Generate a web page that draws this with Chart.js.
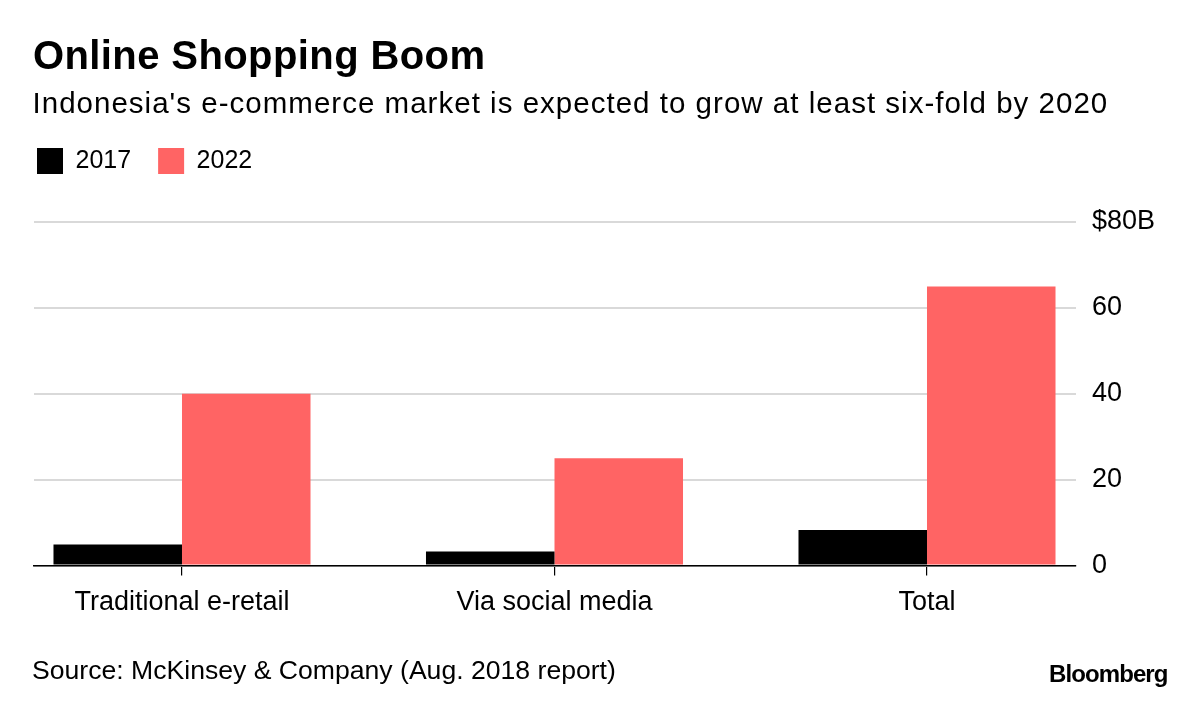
<!DOCTYPE html>
<html>
<head>
<meta charset="utf-8">
<script src="https://cdn.jsdelivr.net/npm/chart.js@4.4.0/dist/chart.umd.min.js"></script>
<style>
html, body { margin: 0; padding: 0; background: #ffffff; }
#wrap { position: relative; width: 1200px; height: 701px; overflow: hidden;
        font-family: "Liberation Sans", Arial, sans-serif; color: #000; }
#c { position: absolute; left: 0; top: 0; }
.t { position: absolute; white-space: nowrap; line-height: 1; }
#title { left: 33px; top: 35px; font-size: 40px; font-weight: bold; letter-spacing: 0.4px; }
#sub { left: 32.5px; top: 88px; font-size: 29.5px; letter-spacing: 1.02px; }
#src { left: 32px; top: 657px; font-size: 26.6px; }
#logo { left: 1049px; top: 662px; font-size: 24px; font-weight: bold; letter-spacing: -0.9px; }
</style>
</head>
<body>
<div id="wrap">
  <canvas id="c" width="1200" height="701"></canvas>
  <div class="t" id="title">Online Shopping Boom</div>
  <div class="t" id="sub">Indonesia's e-commerce market is expected to grow at least six-fold by 2020</div>
  <div class="t" id="src">Source: McKinsey &amp; Company (Aug. 2018 report)</div>
  <div class="t" id="logo">Bloomberg</div>
</div>
<script>
const categories = ['Traditional e-retail', 'Via social media', 'Total'];
const seriesNames = ['2017', '2022'];
const values2017 = [4.9, 3.3, 8.3];
const values2022 = [40, 25, 65];
const yTicks = [0, 20, 40, 60, 80];
const yTickLabels = ['0', '20', '40', '60', '$80B'];
const seriesColors = ['#000000', '#ff6464'];

Chart.defaults.font.family = "'Liberation Sans', Arial, sans-serif";
Chart.defaults.color = '#000';

const toPoints = arr => arr.map((v, i) => ({ x: i, y: v }));

const legendSpace = {
  id: 'legendSpace',
  beforeLayout(chart) {
    const lg = chart.legend;
    if (lg && !lg._patched) {
      const orig = lg.fit;
      lg.fit = function () { orig.call(this); this.height = 101; };
      lg._patched = true;
    }
  }
};

new Chart(document.getElementById('c'), {
  type: 'bar',
  data: {
    datasets: [
      { label: seriesNames[0], data: toPoints(values2017), backgroundColor: seriesColors[0],
        xAxisID: 'x', yAxisID: 'y', categoryPercentage: 0.69, barPercentage: 1 },
      { label: seriesNames[1], data: toPoints(values2022), backgroundColor: seriesColors[1],
        xAxisID: 'x', yAxisID: 'y', categoryPercentage: 0.69, barPercentage: 1 }
    ]
  },
  options: {
    responsive: false,
    animation: false,
    devicePixelRatio: 1,
    layout: { padding: { left: 10, right: 0, top: 121, bottom: 71 } },
    plugins: {
      legend: {
        display: true, position: 'top', align: 'start',
        labels: { boxWidth: 26, boxHeight: 26, padding: 27, color: '#000', font: { size: 25 } }
      },
      tooltip: { enabled: false },
      title: { display: false }
    },
    scales: {
      x: {
        type: 'linear', position: 'bottom', min: -0.3973, max: 2.4, bounds: 'data', offset: false,
        afterBuildTicks: s => { s.ticks = categories.map((_, i) => ({ value: i })); },
        ticks: {
          callback: v => (categories[v] !== undefined ? categories[v] : ''),
          autoSkip: false, maxRotation: 0, minRotation: 0, padding: 11,
          color: '#000', font: { size: 27 }
        },
        grid: { display: true, drawOnChartArea: false, drawTicks: true, tickLength: 10,
                color: '#000', lineWidth: 1.2, offset: false },
        border: { display: true, color: '#000', width: 1.5, z: 1 }
      },
      y: {
        type: 'linear', position: 'right', min: 0, max: 80,
        afterBuildTicks: s => { s.ticks = yTicks.map(v => ({ value: v })); },
        ticks: {
          callback: v => yTickLabels[yTicks.indexOf(v)],
          padding: 16, color: '#000', font: { size: 27 }
        },
        grid: { color: '#d9d9d9', lineWidth: 2, drawTicks: false },
        border: { display: false },
        afterFit: s => { s.width = 124; }
      },
      yPad: {
        type: 'linear', position: 'left', display: true,
        grid: { display: false }, ticks: { display: false }, border: { display: false },
        afterFit: s => { s.width = 24; }
      }
    }
  },
  plugins: [legendSpace]
});
</script>
</body>
</html>
